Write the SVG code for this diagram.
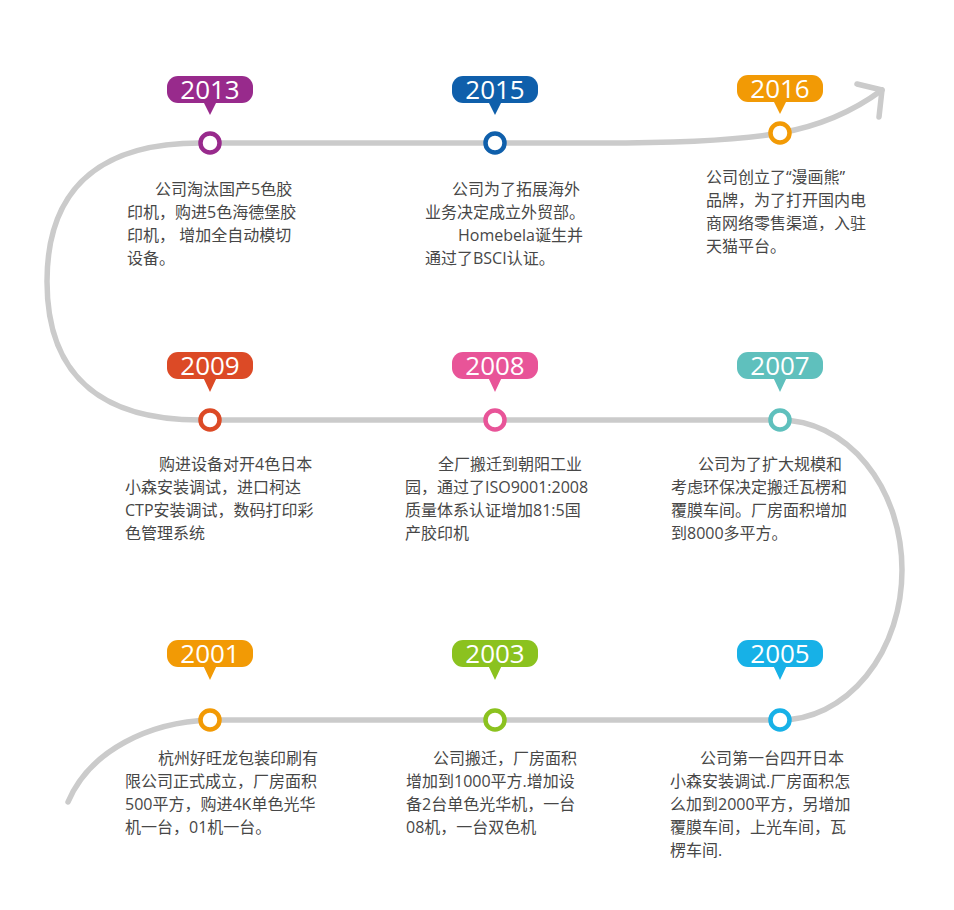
<svg xmlns="http://www.w3.org/2000/svg" width="954" height="910" viewBox="0 0 954 910">
<style>
.track{fill:none;stroke:#cbcbcb;stroke-width:5.5;stroke-linecap:round;stroke-linejoin:round}
.yr{font-family:"Open Sans","Liberation Sans",sans-serif;font-size:26px;fill:#fff;text-anchor:middle}
.desc{font-family:"Open Sans","Noto Sans CJK SC",sans-serif;font-size:16px;fill:#474747}
.dot{fill:#fff;stroke-width:4.5}
</style>
<rect width="954" height="910" fill="#fff"/>
<g id="connectors">
<path class="track" d="M68,802 C90,750 150,722 210,720 L780,720 A122,150 0 0 0 780,420 L200,420 C110,420 47,383 47,281.5 C47,180 110,143 200,143 L600,143 C680,143 740,140 780,133 C820,126 855,110 882,90"/>
<polyline class="track" stroke-width="6" points="857,84 882,90 879,117"/>
</g>
<g id="n2013">
<rect x="167" y="76" width="86" height="27" rx="11" fill="#982a8c"/>
<path d="M203,101 L217,101 L210,115 Z" fill="#982a8c"/>
<text class="yr" x="210" y="99">2013</text>
<circle class="dot" cx="210" cy="143" r="9.5" stroke="#982a8c"/>
<text class="desc"><tspan x="155" y="195">公司淘汰国产5色胶</tspan><tspan x="127" y="218">印机，购进5色海德堡胶</tspan><tspan x="127" y="241">印机， 增加全自动模切</tspan><tspan x="127" y="264">设备。</tspan></text>
</g>
<g id="n2015">
<rect x="452" y="76" width="86" height="27" rx="11" fill="#0f5fab"/>
<path d="M488,101 L502,101 L495,115 Z" fill="#0f5fab"/>
<text class="yr" x="495" y="99">2015</text>
<circle class="dot" cx="495" cy="143" r="9.5" stroke="#0f5fab"/>
<text class="desc"><tspan x="452" y="195">公司为了拓展海外</tspan><tspan x="425" y="218">业务决定成立外贸部。</tspan><tspan x="458" y="241">Homebela诞生并</tspan><tspan x="425" y="264">通过了BSCI认证。</tspan></text>
</g>
<g id="n2016">
<rect x="737" y="75" width="86" height="27" rx="11" fill="#f29a05"/>
<path d="M773,100 L787,100 L780,114 Z" fill="#f29a05"/>
<text class="yr" x="780" y="98">2016</text>
<circle class="dot" cx="780" cy="133" r="9.5" stroke="#f29a05"/>
<text class="desc"><tspan x="706" y="183">公司创立了“漫画熊”</tspan><tspan x="706" y="206">品牌，为了打开国内电</tspan><tspan x="706" y="229">商网络零售渠道，入驻</tspan><tspan x="706" y="252">天猫平台。</tspan></text>
</g>
<g id="n2009">
<rect x="167" y="352" width="86" height="27" rx="11" fill="#dc4a26"/>
<path d="M203,377 L217,377 L210,392 Z" fill="#dc4a26"/>
<text class="yr" x="210" y="375">2009</text>
<circle class="dot" cx="210" cy="420" r="9.5" stroke="#dc4a26"/>
<text class="desc"><tspan x="159" y="470">购进设备对开4色日本</tspan><tspan x="125" y="493">小森安装调试，进口柯达</tspan><tspan x="125" y="516">CTP安装调试，数码打印彩</tspan><tspan x="125" y="539">色管理系统</tspan></text>
</g>
<g id="n2008">
<rect x="452" y="352" width="86" height="27" rx="11" fill="#e85498"/>
<path d="M488,377 L502,377 L495,392 Z" fill="#e85498"/>
<text class="yr" x="495" y="375">2008</text>
<circle class="dot" cx="495" cy="420" r="9.5" stroke="#e85498"/>
<text class="desc"><tspan x="438" y="470">全厂搬迁到朝阳工业</tspan><tspan x="405" y="493">园，通过了ISO9001:2008</tspan><tspan x="405" y="516">质量体系认证增加81:5国</tspan><tspan x="405" y="539">产胶印机</tspan></text>
</g>
<g id="n2007">
<rect x="737" y="352" width="86" height="27" rx="11" fill="#5fc0bd"/>
<path d="M773,377 L787,377 L780,392 Z" fill="#5fc0bd"/>
<text class="yr" x="780" y="375">2007</text>
<circle class="dot" cx="780" cy="420" r="9.5" stroke="#5fc0bd"/>
<text class="desc"><tspan x="698" y="470">公司为了扩大规模和</tspan><tspan x="671" y="493">考虑环保决定搬迁瓦楞和</tspan><tspan x="671" y="516">覆膜车间。厂房面积增加</tspan><tspan x="671" y="539">到8000多平方。</tspan></text>
</g>
<g id="n2001">
<rect x="167" y="640" width="86" height="27" rx="11" fill="#f29a05"/>
<path d="M203,665 L217,665 L210,680 Z" fill="#f29a05"/>
<text class="yr" x="210" y="663">2001</text>
<circle class="dot" cx="210" cy="720" r="9.5" stroke="#f29a05"/>
<text class="desc"><tspan x="158" y="764">杭州好旺龙包装印刷有</tspan><tspan x="125" y="787">限公司正式成立，厂房面积</tspan><tspan x="125" y="810">500平方，购进4K单色光华</tspan><tspan x="125" y="833">机一台，01机一台。</tspan></text>
</g>
<g id="n2003">
<rect x="452" y="640" width="86" height="27" rx="11" fill="#8bc21f"/>
<path d="M488,665 L502,665 L495,680 Z" fill="#8bc21f"/>
<text class="yr" x="495" y="663">2003</text>
<circle class="dot" cx="495" cy="720" r="9.5" stroke="#8bc21f"/>
<text class="desc"><tspan x="433" y="764">公司搬迁，厂房面积</tspan><tspan x="406" y="787">增加到1000平方.增加设</tspan><tspan x="406" y="810">备2台单色光华机，一台</tspan><tspan x="406" y="833">08机，一台双色机</tspan></text>
</g>
<g id="n2005">
<rect x="737" y="640" width="86" height="27" rx="11" fill="#17b1e7"/>
<path d="M773,665 L787,665 L780,680 Z" fill="#17b1e7"/>
<text class="yr" x="780" y="663">2005</text>
<circle class="dot" cx="780" cy="720" r="9.5" stroke="#17b1e7"/>
<text class="desc"><tspan x="700" y="764">公司第一台四开日本</tspan><tspan x="670" y="787">小森安装调试.厂房面积怎</tspan><tspan x="670" y="810">么加到2000平方，另增加</tspan><tspan x="670" y="833">覆膜车间，上光车间，瓦</tspan><tspan x="670" y="856">楞车间.</tspan></text>
</g>
</svg>
